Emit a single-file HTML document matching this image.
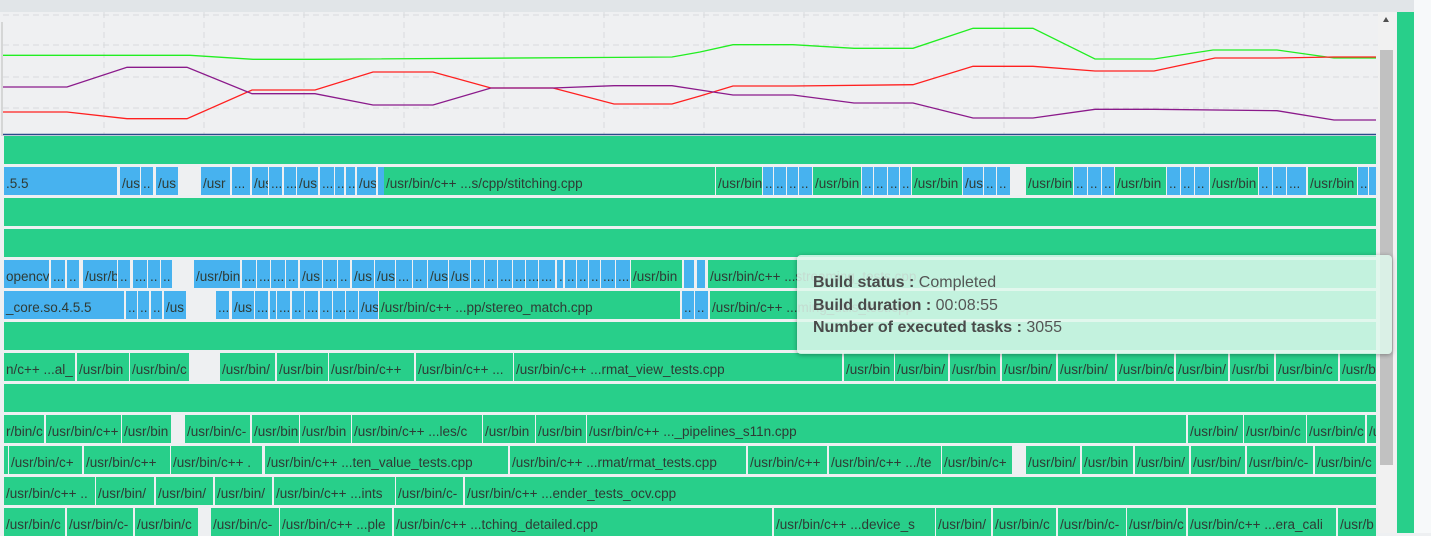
<!DOCTYPE html>
<html><head><meta charset="utf-8"><style>
*{margin:0;padding:0;box-sizing:border-box}
body{width:1431px;height:533px;overflow:hidden;background:#eef0f2;position:relative;font-family:"Liberation Sans",sans-serif}
.b{position:absolute;height:28px;overflow:hidden;white-space:nowrap;font-size:13.5px;line-height:34px;color:#2f3b35;padding-left:2px}
.g{background:#28cf8a}.u{background:#47b2ef}
#tt{position:absolute;left:797px;top:255px;width:595px;height:99px;background:rgba(222,248,236,0.85);border-radius:4px;box-shadow:0 1px 5px rgba(0,0,0,0.35);padding:17px 0 0 16px;font-size:16px;color:#555;line-height:22.5px}
#tt b{color:#4a4a4a}
</style></head><body>
<div style="position:absolute;left:0;top:0;width:1414px;height:12px;background:#e1e5e8"></div>
<svg style="position:absolute;left:0;top:12px" width="1378" height="124">
<rect x="0" y="0" width="1378" height="124" fill="#eff0f2"/>
<g stroke="#d9dadd" stroke-dasharray="6,4" stroke-width="1">
<line x1="3" y1="3" x2="1378" y2="3"/><line x1="3" y1="33" x2="1378" y2="33"/><line x1="3" y1="65" x2="1378" y2="65"/><line x1="3" y1="96" x2="1378" y2="96"/>
<line x1="104" y1="0" x2="104" y2="123"/><line x1="204" y1="0" x2="204" y2="123"/><line x1="304" y1="0" x2="304" y2="123"/><line x1="404" y1="0" x2="404" y2="123"/><line x1="504" y1="0" x2="504" y2="123"/><line x1="604" y1="0" x2="604" y2="123"/><line x1="704" y1="0" x2="704" y2="123"/><line x1="804" y1="0" x2="804" y2="123"/><line x1="904" y1="0" x2="904" y2="123"/><line x1="1004" y1="0" x2="1004" y2="123"/><line x1="1104" y1="0" x2="1104" y2="123"/><line x1="1204" y1="0" x2="1204" y2="123"/><line x1="1304" y1="0" x2="1304" y2="123"/>
</g>
<line x1="2" y1="10" x2="2" y2="124" stroke="#bbb"/>
<g fill="none" stroke-width="1.3" transform="translate(0,-12)">
<polyline stroke="#22ee22" points="3,55.3 190,55.3 253,59.3 314,59.3 672,57 700,52 733,44.7 793,44.7 854,48.3 913,48.3 973,28.3 1033,28.3 1095,59 1154,59 1213,50 1277,50 1334,58 1376,58"/>
<polyline stroke="#ff2020" points="3,112 67,112 127,118.7 187,118.7 252,90 315,90 373,72 433,72 491,88 553,88 614,104 672,104 700,96 733,86 793,86 913,84.7 973,66.3 1033,66.3 1095,71 1154,71 1215,58 1277,58 1334,57 1376,57"/>
<polyline stroke="#8b1a8b" points="3,87 67,87 127,67.3 187,67.3 252,93.7 315,93.7 373,105 433,105 491,88 553,88 614,85.7 672,85.7 700,90 733,95 793,95 854,103 913,103 973,118 1033,118 1095,109.3 1154,109.3 1277,110.7 1334,120 1376,120"/>
<line x1="3" y1="134.5" x2="1376" y2="134.5" stroke="#2a4a8a" stroke-width="1.5"/>
</g>
</svg>
<div id="rows"></div>
<div style="position:absolute;left:1378px;top:12px;width:18px;height:521px;background:#f1f1f1"></div>
<div style="position:absolute;left:1380px;top:50px;width:13px;height:415px;background:#c1c1c1"></div>
<div style="position:absolute;left:1383px;top:17px;width:0;height:0;border-left:3.5px solid transparent;border-right:3.5px solid transparent;border-bottom:5px solid #505050"></div>
<div style="position:absolute;left:1397px;top:12px;width:17px;height:521px;background:#28cf8a"></div>
<div style="position:absolute;left:1414px;top:0;width:17px;height:533px;background:#f7f9fa"></div>
<div id="tt"><b>Build status :</b> Completed<br><b>Build duration :</b> 00:08:55<br><b>Number of executed tasks :</b> 3055</div>
<script>
var R=[
[136,[[4,1376,'g','']]],
[167,[[4,117,'u','.5.5'],[120,140,'u','/us'],[141,153,'u','..'],[156,178,'u','/us'],[201,230,'u','/usr'],[232,250,'u','...'],[252,268,'u','/us'],[269,282,'u','...'],[284,296,'u','...'],[297,318,'u','/us'],[320,334,'u','...'],[335,344,'u','..'],[346,355,'u','...'],[357,376,'u','/us'],[378,384,'u',''],[384,715,'g','/usr/bin/c++ ...s/cpp/stitching.cpp'],[716,762,'g','/usr/bin'],[763,773,'u','..'],[774,786,'u','..'],[787,798,'u','..'],[799,812,'u','..'],[813,861,'g','/usr/bin'],[862,873,'u','..'],[874,887,'u','..'],[888,899,'u','..'],[900,911,'u','..'],[912,962,'g','/usr/bin'],[963,983,'u','/us'],[984,996,'u','..'],[997,1010,'u','..'],[1026,1073,'g','/usr/bin'],[1074,1087,'u','..'],[1088,1101,'u','..'],[1102,1114,'u','..'],[1115,1166,'g','/usr/bin'],[1167,1180,'u','..'],[1181,1194,'u','..'],[1195,1209,'u','..'],[1210,1258,'g','/usr/bin'],[1259,1272,'u','..'],[1273,1286,'u','..'],[1287,1306,'u','...'],[1308,1357,'g','/usr/bin'],[1358,1368,'u','..'],[1369,1376,'u','']]],
[198,[[4,1376,'g','']]],
[229,[[4,1376,'g','']]],
[260,[[4,49,'u','opencv_'],[51,65,'u','...'],[67,79,'u','..'],[83,117,'u','/usr/b'],[118,130,'u','..'],[133,147,'u','...'],[148,160,'u','..'],[161,172,'u','..'],[194,240,'u','/usr/bin'],[242,256,'u','...'],[257,270,'u','...'],[271,285,'u','...'],[286,298,'u','..'],[300,322,'u','/us'],[323,337,'u','...'],[338,350,'u','..'],[352,374,'u','/us'],[375,395,'u','/us'],[396,412,'u','...'],[413,427,'u','..'],[428,448,'u','/us'],[449,470,'u','/us'],[471,484,'u','..'],[485,497,'u','..'],[498,512,'u','...'],[513,525,'u','...'],[526,538,'u','...'],[539,555,'u','...'],[557,563,'u','.'],[565,576,'u','..'],[577,588,'u','..'],[589,600,'u','..'],[601,615,'u','...'],[616,630,'u','...'],[631,682,'g','/usr/bin'],[684,694,'u',''],[697,705,'u',''],[708,1376,'g','/usr/bin/c++ ...streaming_tests.cpp']]],
[291,[[4,124,'u','_core.so.4.5.5'],[126,137,'u','..'],[138,149,'u','..'],[151,162,'u','..'],[164,186,'u','/us'],[216,229,'u','...'],[232,254,'u','/us'],[255,268,'u','...'],[270,276,'u','.'],[277,290,'u','...'],[292,304,'u','..'],[305,318,'u','...'],[320,332,'u','..'],[333,345,'u','...'],[346,358,'u','..'],[359,378,'u','/us'],[379,680,'g','/usr/bin/c++ ...pp/stereo_match.cpp'],[682,694,'u','..'],[695,708,'u','..'],[710,1376,'g','/usr/bin/c++ ...ming_utils_test.cpp']]],
[322,[[4,1376,'g','']]],
[353,[[4,75,'g','n/c++ ...al_'],[77,129,'g','/usr/bin'],[130,189,'g','/usr/bin/c'],[220,275,'g','/usr/bin/'],[277,328,'g','/usr/bin'],[329,414,'g','/usr/bin/c++'],[416,513,'g','/usr/bin/c++ ...'],[514,842,'g','/usr/bin/c++ ...rmat_view_tests.cpp'],[844,894,'g','/usr/bin'],[895,948,'g','/usr/bin/'],[950,1000,'g','/usr/bin'],[1002,1056,'g','/usr/bin/'],[1058,1115,'g','/usr/bin/'],[1117,1174,'g','/usr/bin/c'],[1176,1228,'g','/usr/bin/'],[1230,1274,'g','/usr/bi'],[1276,1338,'g','/usr/bin/c'],[1340,1376,'g','/usr/b']]],
[384,[[4,1376,'g','']]],
[415,[[4,44,'g','r/bin/c'],[46,121,'g','/usr/bin/c++'],[122,171,'g','/usr/bin'],[185,250,'g','/usr/bin/c-'],[252,299,'g','/usr/bin'],[300,351,'g','/usr/bin'],[352,482,'g','/usr/bin/c++ ...les/c'],[483,535,'g','/usr/bin'],[536,586,'g','/usr/bin'],[587,1186,'g','/usr/bin/c++ ..._pipelines_s11n.cpp'],[1188,1243,'g','/usr/bin/'],[1244,1306,'g','/usr/bin/c'],[1307,1365,'g','/usr/bin/c'],[1367,1376,'g','/u']]],
[446,[[4,8,'g',''],[9,82,'g','/usr/bin/c+'],[84,170,'g','/usr/bin/c++'],[171,262,'g','/usr/bin/c++ .'],[265,508,'g','/usr/bin/c++ ...ten_value_tests.cpp'],[510,746,'g','/usr/bin/c++ ...rmat/rmat_tests.cpp'],[748,827,'g','/usr/bin/c++'],[829,941,'g','/usr/bin/c++ .../te'],[942,1012,'g','/usr/bin/c+'],[1026,1080,'g','/usr/bin/'],[1082,1133,'g','/usr/bin'],[1135,1189,'g','/usr/bin/'],[1191,1245,'g','/usr/bin/'],[1247,1313,'g','/usr/bin/c-'],[1315,1376,'g','/usr/bin/c']]],
[477,[[4,95,'g','/usr/bin/c++ ..'],[96,154,'g','/usr/bin/'],[156,213,'g','/usr/bin/'],[215,272,'g','/usr/bin/'],[274,395,'g','/usr/bin/c++ ...ints'],[396,463,'g','/usr/bin/c-'],[465,1376,'g','/usr/bin/c++ ...ender_tests_ocv.cpp']]],
[508,[[4,65,'g','/usr/bin/c'],[67,133,'g','/usr/bin/c-'],[135,198,'g','/usr/bin/c'],[211,279,'g','/usr/bin/c-'],[280,392,'g','/usr/bin/c++ ...ple'],[394,772,'g','/usr/bin/c++ ...tching_detailed.cpp'],[774,935,'g','/usr/bin/c++ ...device_s'],[936,991,'g','/usr/bin/'],[993,1056,'g','/usr/bin/c'],[1058,1126,'g','/usr/bin/c-'],[1127,1186,'g','/usr/bin/c'],[1188,1336,'g','/usr/bin/c++ ...era_cali'],[1338,1376,'g','/usr/b']]]
];
var h='';
R.forEach(function(r){r[1].forEach(function(s){h+='<div class="b '+s[2]+'" style="left:'+s[0]+'px;top:'+r[0]+'px;width:'+(s[1]-s[0])+'px">'+s[3]+'</div>';});});
document.getElementById('rows').innerHTML=h;
</script>
</body></html>
